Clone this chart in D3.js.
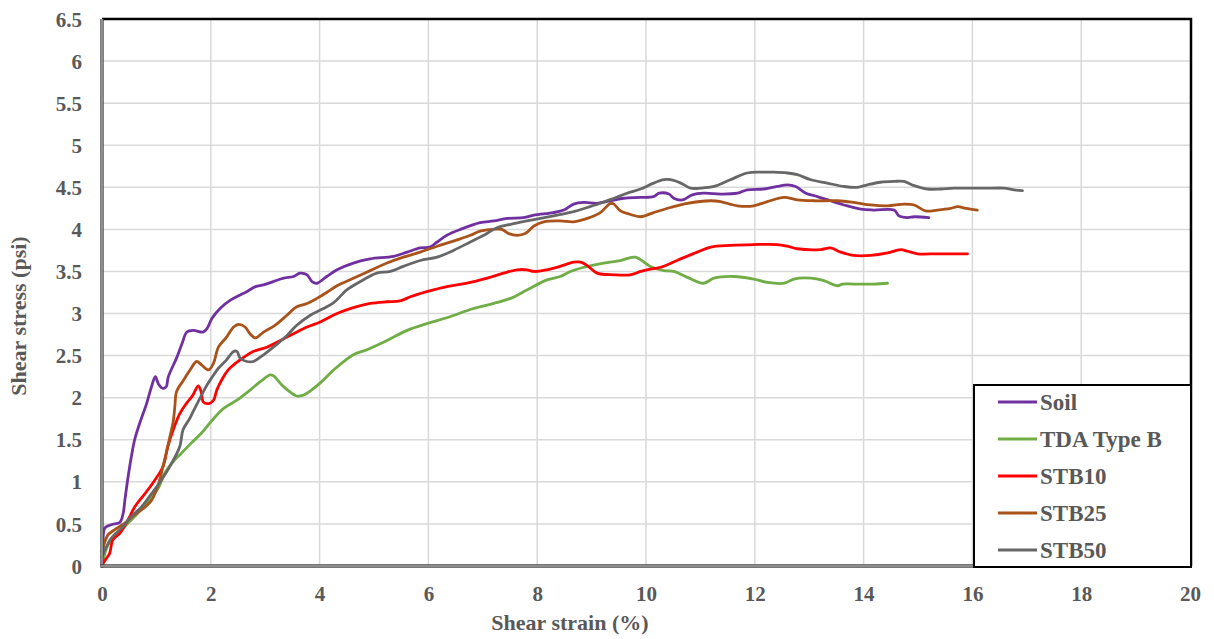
<!DOCTYPE html>
<html>
<head>
<meta charset="utf-8">
<script src="https://cdn.jsdelivr.net/npm/d3@7"></script>
<style>
  html, body { margin: 0; padding: 0; background: #fff; }
  svg { display: block; }
  text { font-family: "Liberation Serif", "Times New Roman", serif; font-weight: bold; fill: #595959; }
</style>
</head>
<body>
<svg id="chart" width="1214" height="639"></svg>
<script>
// Direct shear test: shear stress (psi) vs shear strain (%)
const seriesNames = ["Soil", "TDA Type B", "STB10", "STB25", "STB50"];
const seriesColors = ["#7030A0", "#70AD47", "#FF0000", "#A9521A", "#676767"];

const xTicks = [0, 2, 4, 6, 8, 10, 12, 14, 16, 18, 20];
const yTicks = [0, 0.5, 1, 1.5, 2, 2.5, 3, 3.5, 4, 4.5, 5, 5.5, 6, 6.5];

// [strain %, stress psi]
const soil = [[0,0],[0.02,0.2],[0.05,0.45],[0.17,0.49],[0.33,0.52],[0.39,0.63],[0.42,0.78],[0.48,1.06],[0.54,1.30],[0.60,1.50],[0.69,1.69],[0.82,1.93],[0.91,2.13],[0.98,2.25],[1.04,2.16],[1.12,2.11],[1.18,2.13],[1.22,2.25],[1.37,2.47],[1.47,2.64],[1.56,2.78],[1.68,2.80],[1.86,2.78],[1.93,2.82],[2.02,2.94],[2.17,3.06],[2.36,3.16],[2.54,3.22],[2.66,3.26],[2.82,3.32],[2.97,3.34],[3.15,3.38],[3.34,3.42],[3.52,3.44],[3.64,3.48],[3.77,3.46],[3.86,3.38],[3.95,3.36],[4.13,3.44],[4.32,3.52],[4.62,3.60],[4.93,3.65],[5.36,3.68],[5.61,3.73],[5.85,3.78],[6.03,3.79],[6.16,3.85],[6.34,3.93],[6.59,4.00],[6.95,4.08],[7.20,4.10],[7.45,4.13],[7.75,4.14],[7.94,4.17],[8.30,4.20],[8.49,4.23],[8.67,4.30],[8.86,4.32],[9.10,4.31],[9.35,4.34],[9.59,4.37],[9.90,4.38],[10.14,4.39],[10.24,4.43],[10.42,4.42],[10.51,4.37],[10.67,4.35],[10.85,4.41],[11.06,4.43],[11.37,4.42],[11.68,4.43],[11.86,4.47],[12.17,4.48],[12.41,4.51],[12.60,4.53],[12.75,4.51],[12.94,4.43],[13.15,4.39],[13.39,4.34],[13.64,4.29],[13.95,4.24],[14.19,4.23],[14.56,4.23],[14.65,4.16],[14.81,4.14],[14.93,4.15],[15.20,4.14]];

const tdaTypeB = [[0,0],[0.11,0.25],[0.29,0.39],[0.48,0.51],[0.66,0.63],[0.85,0.78],[1.03,0.92],[1.15,1.10],[1.28,1.22],[1.46,1.34],[1.64,1.46],[1.83,1.58],[2.01,1.72],[2.23,1.87],[2.48,1.97],[2.72,2.09],[2.91,2.19],[3.09,2.27],[3.15,2.26],[3.34,2.13],[3.58,2.02],[3.70,2.03],[3.89,2.11],[4.07,2.21],[4.26,2.33],[4.62,2.51],[4.87,2.57],[5.24,2.68],[5.61,2.80],[5.97,2.88],[6.34,2.95],[6.83,3.06],[7.20,3.12],[7.51,3.18],[7.81,3.28],[8.18,3.40],[8.42,3.44],[8.61,3.50],[8.86,3.55],[9.22,3.60],[9.53,3.63],[9.80,3.67],[10.08,3.56],[10.33,3.51],[10.51,3.50],[10.76,3.43],[11.06,3.36],[11.25,3.42],[11.62,3.44],[11.98,3.41],[12.23,3.37],[12.54,3.36],[12.72,3.41],[13.03,3.42],[13.27,3.39],[13.52,3.33],[13.61,3.35],[13.82,3.35],[14.19,3.35],[14.44,3.36]];

const stb10 = [[0,0.01],[0.08,0.09],[0.14,0.15],[0.20,0.31],[0.33,0.39],[0.48,0.55],[0.60,0.70],[0.79,0.86],[0.97,1.02],[1.12,1.18],[1.21,1.42],[1.31,1.62],[1.43,1.81],[1.55,1.93],[1.67,2.03],[1.77,2.14],[1.83,2.05],[1.86,1.95],[1.96,1.93],[2.05,1.97],[2.11,2.09],[2.20,2.21],[2.32,2.33],[2.54,2.45],[2.78,2.55],[3.03,2.60],[3.28,2.68],[3.52,2.76],[3.77,2.84],[4.01,2.90],[4.32,3.00],[4.62,3.07],[4.93,3.12],[5.24,3.14],[5.48,3.15],[5.67,3.20],[5.97,3.26],[6.34,3.32],[6.71,3.36],[7.08,3.42],[7.38,3.48],[7.63,3.52],[7.81,3.52],[7.94,3.50],[8.18,3.52],[8.42,3.56],[8.67,3.61],[8.80,3.61],[8.92,3.57],[9.10,3.48],[9.41,3.46],[9.71,3.46],[9.90,3.50],[10.02,3.52],[10.27,3.55],[10.57,3.63],[10.94,3.73],[11.19,3.79],[11.55,3.81],[11.98,3.82],[12.41,3.82],[12.60,3.80],[12.78,3.77],[13.21,3.76],[13.39,3.78],[13.58,3.73],[13.82,3.69],[14.13,3.69],[14.44,3.72],[14.68,3.76],[14.81,3.74],[14.99,3.71],[15.36,3.71],[15.91,3.71]];

const stb25 = [[0,0.17],[0.11,0.37],[0.23,0.43],[0.42,0.51],[0.60,0.61],[0.79,0.70],[0.91,0.78],[1.00,0.90],[1.06,1.02],[1.12,1.18],[1.18,1.34],[1.25,1.54],[1.31,1.72],[1.34,1.90],[1.37,2.07],[1.50,2.21],[1.62,2.33],[1.74,2.43],[1.83,2.39],[1.96,2.33],[2.05,2.41],[2.14,2.60],[2.29,2.72],[2.42,2.84],[2.51,2.87],[2.63,2.84],[2.72,2.76],[2.82,2.71],[2.97,2.78],[3.18,2.86],[3.40,2.98],[3.58,3.08],[3.77,3.12],[3.95,3.18],[4.13,3.25],[4.32,3.33],[4.62,3.42],[4.93,3.51],[5.24,3.60],[5.54,3.67],[5.85,3.73],[6.16,3.80],[6.46,3.86],[6.77,3.93],[6.95,3.98],[7.20,4.00],[7.35,4.00],[7.48,3.95],[7.63,3.93],[7.78,3.95],[7.94,4.04],[8.12,4.09],[8.42,4.10],[8.67,4.09],[8.92,4.13],[9.16,4.20],[9.35,4.31],[9.41,4.30],[9.53,4.22],[9.70,4.18],[9.90,4.15],[10.14,4.20],[10.45,4.26],[10.76,4.31],[11.19,4.34],[11.37,4.33],[11.68,4.28],[11.98,4.28],[12.23,4.33],[12.54,4.38],[12.78,4.35],[13.09,4.34],[13.52,4.34],[13.82,4.32],[14.13,4.29],[14.44,4.28],[14.74,4.30],[14.93,4.29],[15.14,4.22],[15.36,4.23],[15.60,4.25],[15.73,4.27],[15.88,4.25],[16.09,4.23]];

const stb50 = [[0,0.11],[0.17,0.33],[0.36,0.45],[0.54,0.59],[0.72,0.70],[0.91,0.86],[1.09,1.02],[1.28,1.22],[1.43,1.42],[1.49,1.62],[1.61,1.75],[1.71,1.88],[1.83,2.03],[1.93,2.15],[2.02,2.24],[2.14,2.35],[2.29,2.45],[2.42,2.55],[2.48,2.55],[2.54,2.47],[2.66,2.43],[2.78,2.43],[2.97,2.51],[3.15,2.60],[3.40,2.74],[3.58,2.86],[3.83,2.98],[4.07,3.06],[4.26,3.13],[4.50,3.28],[4.75,3.38],[5.05,3.48],[5.30,3.50],[5.54,3.56],[5.85,3.63],[6.16,3.67],[6.46,3.75],[6.77,3.85],[7.02,3.93],[7.26,4.02],[7.51,4.06],[7.81,4.10],[8.06,4.13],[8.37,4.17],[8.67,4.21],[8.92,4.26],[9.16,4.31],[9.41,4.37],[9.65,4.43],[9.90,4.48],[10.14,4.55],[10.33,4.59],[10.45,4.59],[10.64,4.55],[10.82,4.49],[11.00,4.49],[11.25,4.51],[11.55,4.59],[11.86,4.67],[12.11,4.68],[12.35,4.68],[12.60,4.67],[12.78,4.65],[13.03,4.59],[13.33,4.55],[13.64,4.51],[13.88,4.50],[14.07,4.53],[14.31,4.56],[14.56,4.57],[14.74,4.57],[14.93,4.52],[15.17,4.48],[15.42,4.48],[15.66,4.49],[16.27,4.49],[16.58,4.49],[16.77,4.47],[16.92,4.46]];

const seriesData = [soil, tdaTypeB, stb10, stb25, stb50];

const svg = d3.select("#chart");
const plot = { left: 102, right: 1190, top: 19, bottom: 566 };

const x = d3.scaleLinear().domain([0, 20]).range([plot.left, plot.right]);
const y = d3.scaleLinear().domain([0, 6.5]).range([plot.bottom, plot.top]);

// gridlines
const grid = svg.append("g").attr("stroke", "#D9D9D9").attr("stroke-width", 1.5);
grid.selectAll("line.v").data(xTicks.filter(d => d > 0 && d < 20)).join("line")
  .attr("x1", d => x(d)).attr("x2", d => x(d))
  .attr("y1", plot.top).attr("y2", plot.bottom);
grid.selectAll("line.h").data(yTicks.filter(d => d > 0 && d < 6.5)).join("line")
  .attr("x1", plot.left).attr("x2", plot.right)
  .attr("y1", d => y(d)).attr("y2", d => y(d));

// series lines
const line = d3.line()
  .x(d => x(d[0]))
  .y(d => y(d[1]))
  .curve(d3.curveCatmullRom.alpha(0.5));

svg.append("g").selectAll("path").data(seriesData).join("path")
  .attr("d", line)
  .attr("fill", "none")
  .attr("stroke", (d, i) => seriesColors[i])
  .attr("stroke-width", 2.8)
  .attr("stroke-linejoin", "round")
  .attr("stroke-linecap", "round");

// top and right frame
svg.append("path")
  .attr("d", `M${plot.left},${plot.top}H${plot.right + 1}V${plot.bottom}`)
  .attr("fill", "none").attr("stroke", "#000").attr("stroke-width", 2.5);

// double-line axes
function doubleLine(x1, y1, x2, y2) {
  svg.append("line").attr("x1", x1).attr("y1", y1).attr("x2", x2).attr("y2", y2)
    .attr("stroke", "#4a4a4a").attr("stroke-width", 3.4);
  svg.append("line").attr("x1", x1).attr("y1", y1).attr("x2", x2).attr("y2", y2)
    .attr("stroke", "#d0d0d0").attr("stroke-width", 1);
}
doubleLine(plot.left, plot.top, plot.left, plot.bottom + 1.5);
doubleLine(plot.left - 1.5, plot.bottom, plot.right, plot.bottom);

// tick labels
const xAxis = d3.axisBottom(x).tickValues(xTicks).tickSize(0).tickPadding(0).tickFormat(d3.format("d"));
const gx = svg.append("g").attr("transform", `translate(0,${plot.bottom})`).call(xAxis);
gx.select(".domain").remove();
gx.selectAll("text").attr("dy", null).attr("y", 35)
  .style("font-size", "21px").style("font-family", "'Liberation Serif', serif").style("font-weight", "bold").attr("fill", "#595959");

const yAxis = d3.axisLeft(y).tickValues(yTicks).tickSize(0).tickPadding(0).tickFormat(d => d3.format("")(d));
const gy = svg.append("g").attr("transform", `translate(${plot.left},0)`).call(yAxis);
gy.select(".domain").remove();
gy.selectAll("text").attr("x", -20).attr("dy", "0.34em")
  .style("font-size", "21px").style("font-family", "'Liberation Serif', serif").style("font-weight", "bold").attr("fill", "#595959");

// axis titles
svg.append("text").attr("x", 570).attr("y", 630).attr("text-anchor", "middle")
  .style("font-size", "22px").text("Shear strain (%)");
svg.append("text").attr("transform", "translate(26,316) rotate(-90)").attr("text-anchor", "middle")
  .style("font-size", "22px").text("Shear stress (psi)");

// legend
const legend = svg.append("g");
legend.append("rect").attr("x", 974).attr("y", 385).attr("width", 217).attr("height", 182)
  .attr("fill", "#fff").attr("stroke", "#000").attr("stroke-width", 2);
const rowY = d3.scalePoint().domain(seriesNames).range([402, 550]);
const items = legend.selectAll("g.item").data(seriesNames).join("g")
  .attr("transform", d => `translate(0,${rowY(d)})`);
items.append("line").attr("x1", 998).attr("x2", 1037).attr("y1", 0).attr("y2", 0)
  .attr("stroke", (d, i) => seriesColors[i]).attr("stroke-width", 2.8);
items.append("text").attr("x", 1040).attr("dy", "0.35em")
  .style("font-size", "23px").text(d => d);
</script>
</body>
</html>
